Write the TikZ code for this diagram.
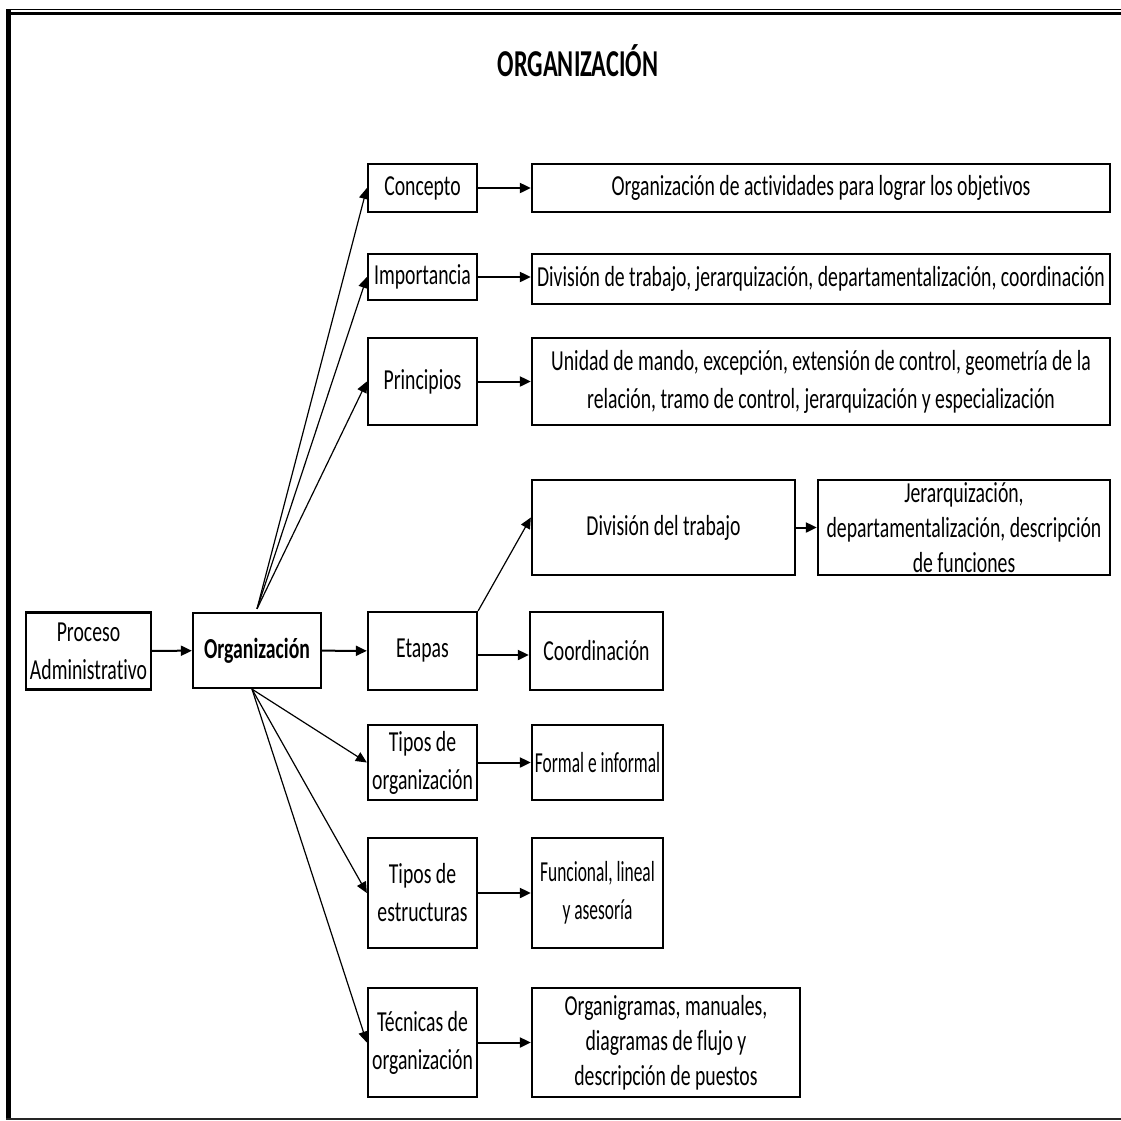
\documentclass[tikz,border=0pt]{standalone}
\usepackage{fontspec}
\setmainfont{Carlito}[FakeStretch=0.68,Ligatures=NoCommon]
\newfontfamily\narrowfont{Carlito}[FakeStretch=0.6,Ligatures=NoCommon]
\newfontfamily\titlefont{Carlito}[FakeStretch=0.64,Ligatures=NoCommon]
\usetikzlibrary{arrows.meta,calc}
\begin{document}
\begin{tikzpicture}[x=1pt,y=-1pt,
  box/.style={draw=black,line width=2.3pt,inner ysep=-12pt,inner xsep=-8pt,align=center,
    font=\fontsize{29}{38}\selectfont},
  tight/.style={font=\narrowfont\fontsize{29}{38}\selectfont},
  dense/.style={font=\fontsize{29}{35}\selectfont},
  link/.style={line width=2pt,-{Triangle[length=11pt,width=10pt]}},
  fan/.style={line width=1.2pt,-{Triangle[length=11pt,width=10pt]}}]
\useasboundingbox (0,0) rectangle (1121,1120);
% page frame
\draw[line width=1.2pt] (6,9.5) -- (1121,9.5);
\draw[line width=3.5pt] (6,13.5) -- (1121,13.5);
\draw[line width=5pt] (8.5,9) -- (8.5,1118);
\draw[line width=2pt,black!85] (6,1118.5) -- (1121,1118.5);
% title
\node (title) at (578,61) {\titlefont\fontsize{38}{42}\selectfont\bfseries ORGANIZACIÓN};
% left column
\node[box,minimum width=125pt,minimum height=77pt] (proc) at (88.5,651) {Proceso\\Administrativo};
\node[box,minimum width=128pt,minimum height=75pt] (org) at (257,650.5) {\bfseries Organización};
% branch boxes
\node[box,minimum width=109pt,minimum height=48pt] (conc) at (422.5,188) {Concepto};
\node[box,minimum width=578pt,minimum height=48pt] (concT) at (821,188) {Organización de actividades para lograr los objetivos};
\node[box,minimum width=109pt,minimum height=46pt] (imp) at (422.5,277) {Importancia};
\node[box,minimum width=578pt,minimum height=50pt] (impT) at (821,279) {División de trabajo, jerarquización, departamentalización, coordinación};
\node[box,minimum width=109pt,minimum height=87pt] (prin) at (422.5,381.5) {Principios};
\node[box,minimum width=578pt,minimum height=87pt] (prinT) at (821,381.5) {Unidad de mando, excepción, extensión de control, geometría de la\\relación, tramo de control, jerarquización y especialización};
\node[box,minimum width=263pt,minimum height=95pt] (div) at (663.5,527.5) {División del trabajo};
\node[box,dense,minimum width=292pt,minimum height=95pt] (jer) at (964,527.5) {Jerarquización,\\departamentalización, descripción\\de funciones};
\node[box,minimum width=109pt,minimum height=78pt] (eta) at (422.5,651) {Etapas};
\node[box,minimum width=133pt,minimum height=78pt] (coord) at (596.5,651) {Coordinación};
\node[box,minimum width=109pt,minimum height=75pt] (tor) at (422.5,762.5) {Tipos de\\organización};
\node[box,tight,minimum width=131pt,minimum height=75pt] (form) at (597.5,762.5) {Formal e informal};
\node[box,minimum width=109pt,minimum height=110pt] (test) at (422.5,893) {Tipos de\\estructuras};
\node[box,tight,minimum width=131pt,minimum height=110pt] (func) at (597.5,893) {Funcional, lineal\\y asesoría};
\node[box,minimum width=109pt,minimum height=109pt] (tec) at (422.5,1042.5) {Técnicas de\\organización};
\node[box,dense,minimum width=268pt,minimum height=109pt] (orgm) at (666,1042.5) {Organigramas, manuales,\\diagramas de flujo y\\descripción de puestos};
% fan points on the central box
\coordinate (otop) at ($(org.north)+(0,-3)$);
\coordinate (obot) at ($(org.south)+(-5,0)$);
% connectors
\draw[link] (proc) -- (org);
\draw[link] (org) -- (eta);
\draw[fan] (otop) -- (conc.west);
\draw[fan] (otop) -- (imp.west);
\draw[fan] (otop) -- (prin.west);
\draw[fan] (obot) -- (tor.west);
\draw[fan] (obot) -- (test.west);
\draw[fan] (obot) -- (tec.west);
\draw[link] (conc) -- (concT);
\draw[link] (imp.east) -- (imp.east -| impT.west);
\draw[link] (prin) -- (prinT);
\draw[fan] (eta.north east) -- ($(div.west)+(0,-10)$);
\draw[link] (eta.east) ++(0,4) coordinate (etaR) -- (etaR -| coord.west);
\draw[link] (div) -- (jer);
\draw[link] (tor) -- (form);
\draw[link] (test) -- (func);
\draw[link] (tec) -- (orgm);
\end{tikzpicture}
\end{document}
